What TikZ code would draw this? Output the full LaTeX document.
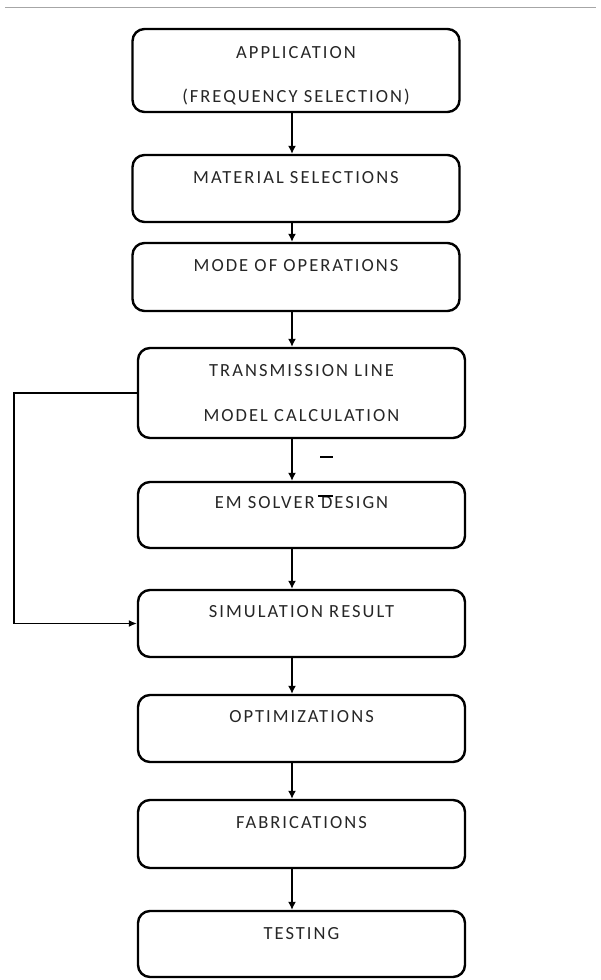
\documentclass[tikz,border=0pt]{standalone}
\usepackage{fontspec}
\setmainfont{Carlito}[LetterSpace=11]
\usepackage{tikz}
\usetikzlibrary{calc,arrows,arrows.meta,positioning}

\tikzset{
  box/.style={draw=black,rounded corners=12pt,line width=2.4pt,minimum width=327pt,inner sep=0pt},
  lbl/.style={inner sep=0pt,text=black!85,font=\fontsize{18.5}{21}\selectfont},
  arr/.style={-{Latex[length=8pt,width=8pt]},line width=1.4pt},
  fb/.style={-{Latex[length=8pt,width=7pt]},line width=1.2pt},
}

\begin{document}
\begin{tikzpicture}[x=1pt,y=-1pt]
  \useasboundingbox (0,0) rectangle (601,980);
  % page rule at the top
  \draw[black!35,line width=1pt] (5,7) -- (596,7);

  % boxes
  \node[box,minimum height=83pt](app)at(296,70.5){};
  \node[box,minimum height=67pt](mat)at(296,188.5){};
  \node[box,minimum height=68pt](mode)at(296,277){};
  \node[box,minimum height=90pt](tl)at(301.5,393){};
  \node[box,minimum height=66pt](em)at(301.5,515){};
  \node[box,minimum height=67pt](sim)at(301.5,623.5){};
  \node[box,minimum height=67pt](opt)at(301.5,728.5){};
  \node[box,minimum height=68pt](fab)at(301.5,834){};
  \node[box,minimum height=66pt](test)at(301.5,944){};

  % texts
  \node[lbl](appA)at(app |- 0,53){APPLICATION};
  \node[lbl](appB)at(app |- 0,97){(FREQUENCY SELECTION)};
  \node[lbl](matT)at(mat |- 0,178){MATERIAL SELECTIONS};
  \node[lbl](modeT)at(mode |- 0,266){MODE OF OPERATIONS};
  \node[lbl](tlA)at(tl |- 0,371){TRANSMISSION LINE};
  \node[lbl](tlB)at(tl |- 0,416){MODEL CALCULATION};
  \node[lbl](emT)at(em |- 0,503){EM SOLVER DESIGN};
  \node[lbl](simT)at(sim |- 0,612){SIMULATION RESULT};
  \node[lbl](optT)at(opt |- 0,717){OPTIMIZATIONS};
  \node[lbl](fabT)at(fab |- 0,823){FABRICATIONS};
  \node[lbl](testT)at(test |- 0,934){TESTING};

  % arrows down the column
  \coordinate (axis) at (292,0);
  \draw[arr](app.south -| axis)--(mat.north -| axis);
  \draw[arr](mat.south -| axis)--(mode.north -| axis);
  \draw[arr](mode.south -| axis)--(tl.north -| axis);
  \draw[arr](tl.south -| axis)--(em.north -| axis);
  \draw[arr](em.south -| axis)--(sim.north -| axis);
  \draw[arr](sim.south -| axis)--(opt.north -| axis);
  \draw[arr](opt.south -| axis)--(fab.north -| axis);
  \draw[arr](fab.south -| axis)--(test.north -| axis);

  % feedback from the calculation to the result
  \coordinate (rail) at (14,500);
  \draw[fb](tl.west) -| (rail) |- (sim.west);

  % stray marks
  \draw[line width=1.3pt] (320,457) -- (333,457);
  \draw[line width=1.3pt] (318,496) -- (333,496);
\end{tikzpicture}
\end{document}
